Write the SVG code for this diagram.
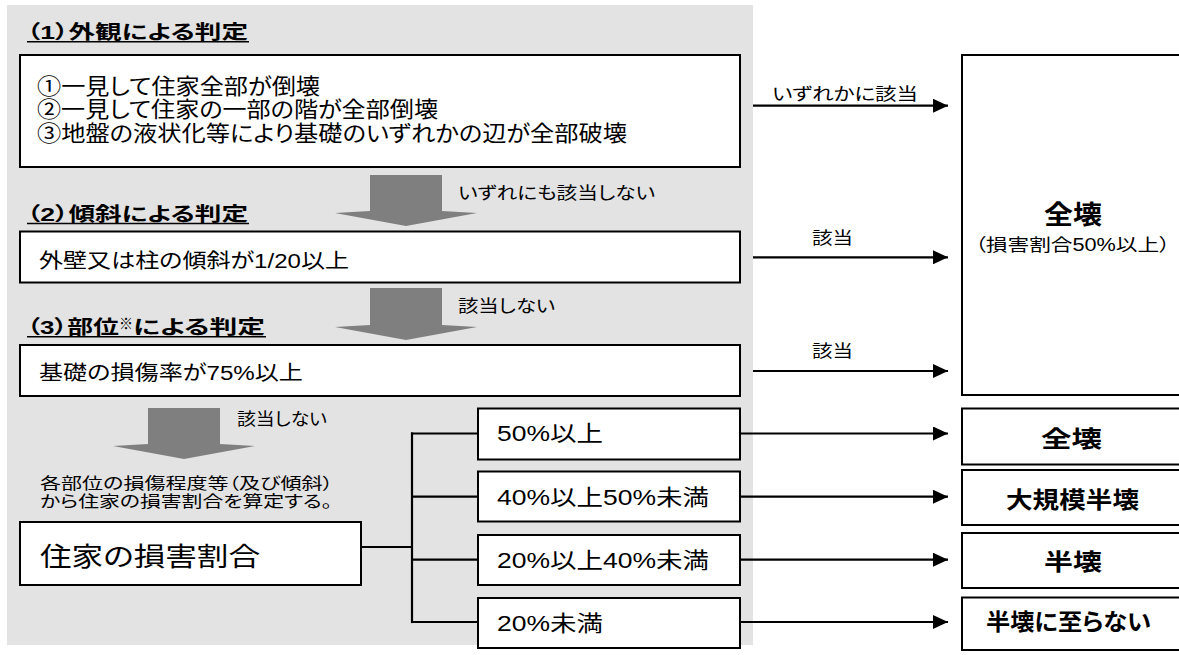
<svg xmlns="http://www.w3.org/2000/svg" width="1179" height="655" viewBox="0 0 1179 655">
<style>
text{font-family:"Liberation Sans","Noto Sans CJK JP",sans-serif;fill:#000;font-feature-settings:"palt" 1;}
.h{font-size:19px;font-weight:bold;}
.b{font-size:22px;}
.s{font-size:20.5px;}
.l{font-size:17.5px;}
.n{font-size:16px;}
.r{font-size:21.5px;}
.res{font-size:23px;font-weight:bold;}
.box{fill:#fff;stroke:#000;stroke-width:2;}
.garrow{fill:#7f7f7f;}
.ln{stroke:#000;stroke-width:2.2;fill:none;}
.ul{stroke:#000;stroke-width:1.6;}
</style>
<defs>
<marker id="ah" markerUnits="userSpaceOnUse" markerWidth="15" markerHeight="14" refX="15" refY="7" orient="auto">
<path d="M0,0 L15,7 L0,14 z" fill="#000"/>
</marker>
</defs>
<rect x="0" y="0" width="1179" height="655" fill="#fff"/>
<rect id="panel" x="7" y="5" width="746" height="640" fill="#e3e3e3"/>

<g id="flow-arrows">
<polygon class="garrow" points="370,175 442,175 442,211 477,213 406,226 335,213 370,211"/>
<polygon class="garrow" points="370,288 442,288 442,325 477,327 406,340 335,327 370,325"/>
<polygon class="garrow" points="148,408 220,408 220,444 255,446 184,459 113,446 148,444"/>
</g>

<g id="h1">
<text class="h" x="27" y="38.5" textLength="221" lengthAdjust="spacingAndGlyphs">（1）外観による判定</text>
<line class="ul" x1="27" y1="41.8" x2="249" y2="41.8"/>
</g>
<g id="h2">
<text class="h" x="27" y="220.5" textLength="221" lengthAdjust="spacingAndGlyphs">（2）傾斜による判定</text>
<line class="ul" x1="27" y1="223.5" x2="249" y2="223.5"/>
</g>
<g id="h3">
<text class="h" x="27" y="334" textLength="92" lengthAdjust="spacingAndGlyphs">（3）部位</text>
<text class="h" x="119" y="328.5" style="font-size:15px" textLength="14" lengthAdjust="spacingAndGlyphs">※</text>
<text class="h" x="133" y="334" textLength="132" lengthAdjust="spacingAndGlyphs">による判定</text>
<line class="ul" x1="27" y1="336.7" x2="266" y2="336.7"/>
</g>

<g id="box1">
<rect class="box" x="20" y="55" width="720" height="112"/>
<text class="b" x="37" y="93.5" textLength="283" lengthAdjust="spacingAndGlyphs">①一見して住家全部が倒壊</text>
<text class="b" x="37" y="117" textLength="401" lengthAdjust="spacingAndGlyphs">②一見して住家の一部の階が全部倒壊</text>
<text class="b" x="37" y="140.5" textLength="590" lengthAdjust="spacingAndGlyphs">③地盤の液状化等により基礎のいずれかの辺が全部破壊</text>
</g>

<g id="box2">
<rect class="box" x="20" y="231.5" width="720" height="51"/>
<text class="s" x="39" y="268" textLength="310" lengthAdjust="spacingAndGlyphs">外壁又は柱の傾斜が1/20以上</text>
</g>

<g id="box3">
<rect class="box" x="20" y="345" width="720" height="51"/>
<text class="s" x="39" y="380" textLength="264" lengthAdjust="spacingAndGlyphs">基礎の損傷率が75%以上</text>
</g>

<g id="flow-labels">
<text class="l" x="458" y="199" textLength="197" lengthAdjust="spacingAndGlyphs">いずれにも該当しない</text>
<text class="l" x="458" y="312" textLength="97" lengthAdjust="spacingAndGlyphs">該当しない</text>
<text class="l" x="237" y="425" textLength="90" lengthAdjust="spacingAndGlyphs">該当しない</text>
<text class="n" x="40" y="488.5" textLength="293" lengthAdjust="spacingAndGlyphs">各部位の損傷程度等（及び傾斜）</text>
<text class="n" x="40" y="506.5" textLength="292" lengthAdjust="spacingAndGlyphs">から住家の損害割合を算定する。</text>
</g>

<g id="ratio">
<rect class="box" x="20" y="522" width="341" height="63"/>
<text x="40" y="566" style="font-size:26.5px" textLength="220" lengthAdjust="spacingAndGlyphs">住家の損害割合</text>
</g>

<g id="range1">
<rect class="box" x="478" y="408.5" width="262" height="51"/>
<text class="r" x="497" y="441" textLength="106" lengthAdjust="spacingAndGlyphs">50%以上</text>
</g>
<g id="range2">
<rect class="box" x="478" y="471.5" width="262" height="50"/>
<text class="r" x="497" y="505" textLength="212" lengthAdjust="spacingAndGlyphs">40%以上50%未満</text>
</g>
<g id="range3">
<rect class="box" x="478" y="535" width="262" height="50"/>
<text class="r" x="497" y="568" textLength="212" lengthAdjust="spacingAndGlyphs">20%以上40%未満</text>
</g>
<g id="range4">
<rect class="box" x="478" y="598" width="262" height="50"/>
<text class="r" x="497" y="631" textLength="106" lengthAdjust="spacingAndGlyphs">20%未満</text>
</g>

<g id="zenkai-big">
<rect class="box" x="962" y="55" width="230" height="340"/>
<text x="1044" y="224" style="font-size:26px;font-weight:bold" textLength="58" lengthAdjust="spacingAndGlyphs">全壊</text>
<text class="l" x="975" y="251" textLength="195" lengthAdjust="spacingAndGlyphs">（損害割合50%以上）</text>
</g>

<g id="res1">
<rect class="box" x="962" y="408.5" width="230" height="56"/>
<text class="res" x="1041" y="447" textLength="61" lengthAdjust="spacingAndGlyphs">全壊</text>
</g>
<g id="res2">
<rect class="box" x="962" y="470" width="230" height="55"/>
<text class="res" x="1006" y="508" textLength="133" lengthAdjust="spacingAndGlyphs">大規模半壊</text>
</g>
<g id="res3">
<rect class="box" x="962" y="533" width="230" height="55"/>
<text class="res" x="1044" y="570" textLength="58" lengthAdjust="spacingAndGlyphs">半壊</text>
</g>
<g id="res4">
<rect class="box" x="962" y="597.5" width="230" height="52.5"/>
<text class="res" x="986" y="630" textLength="165" lengthAdjust="spacingAndGlyphs">半壊に至らない</text>
</g>

<g id="connectors">
<line class="ln" x1="753" y1="105.7" x2="948" y2="105.7" marker-end="url(#ah)"/>
<line class="ln" x1="753" y1="257.3" x2="948" y2="257.3" marker-end="url(#ah)"/>
<line class="ln" x1="753" y1="371" x2="948" y2="371" marker-end="url(#ah)"/>
<line class="ln" x1="740" y1="433.5" x2="948" y2="433.5" marker-end="url(#ah)"/>
<line class="ln" x1="740" y1="496.7" x2="948" y2="496.7" marker-end="url(#ah)"/>
<line class="ln" x1="740" y1="559.7" x2="948" y2="559.7" marker-end="url(#ah)"/>
<line class="ln" x1="740" y1="622" x2="948" y2="622" marker-end="url(#ah)"/>
<line class="ln" x1="361" y1="547" x2="412" y2="547"/>
<line class="ln" x1="412" y1="432.4" x2="412" y2="623.1"/>
<line class="ln" x1="411" y1="433.5" x2="478" y2="433.5"/>
<line class="ln" x1="411" y1="496.7" x2="478" y2="496.7"/>
<line class="ln" x1="411" y1="559.7" x2="478" y2="559.7"/>
<line class="ln" x1="411" y1="622" x2="478" y2="622"/>
<text class="l" x="772" y="100" textLength="146" lengthAdjust="spacingAndGlyphs">いずれかに該当</text>
<text class="l" x="812" y="244" textLength="41" lengthAdjust="spacingAndGlyphs">該当</text>
<text class="l" x="812" y="357" textLength="41" lengthAdjust="spacingAndGlyphs">該当</text>
</g>
</svg>
